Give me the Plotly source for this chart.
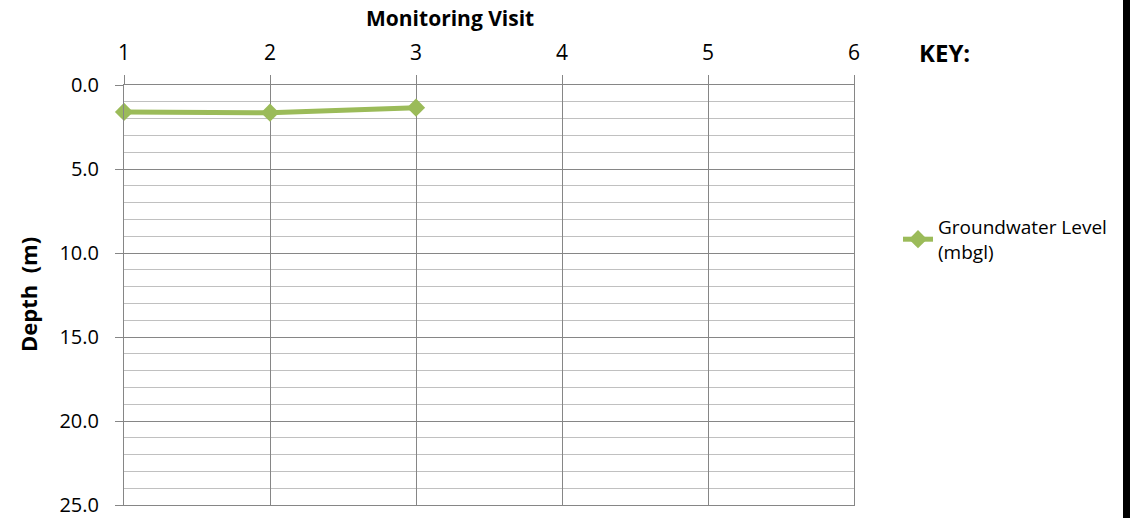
import plotly.graph_objects as go

visits = [1, 2, 3]
groundwater_level = [1.6, 1.65, 1.35]
series_name = "Groundwater Level<br>(mbgl)"
x_title = "Monitoring Visit"
y_title = "Depth  (m)"
key_label = "KEY:"

FONT = "'Open Sans', sans-serif"
GREEN = "#9BBB59"
L, R, T, B = 124, 854, 85, 505
PW, PH = R - L, B - T

fig = go.Figure()
fig.add_trace(go.Scatter(
    x=visits, y=groundwater_level, name=series_name,
    mode="lines+markers",
    line=dict(color=GREEN, width=5),
    marker=dict(symbol="diamond", size=14, color=GREEN),
    cliponaxis=False,
))

fig.update_layout(
    width=1130, height=518,
    margin=dict(l=L, r=1130 - R, t=T, b=518 - B, autoexpand=False),
    paper_bgcolor="white", plot_bgcolor="white",
    font=dict(family=FONT, size=20, color="#000000"),
    showlegend=True,
    legend=dict(x=(898 - L) / PW, y=(B - 208) / PH, xanchor="left", yanchor="top",
                font=dict(size=19, family=FONT), bgcolor="rgba(0,0,0,0)"),
    xaxis=dict(
        side="top", range=[1, 6], dtick=1, tick0=1,
        ticks="outside", ticklen=9, tickcolor="#868686",
        showgrid=True, gridcolor="#868686", gridwidth=1,
        showline=True, linecolor="#868686", mirror=True, zeroline=False,
        ticklabelstandoff=7,
        tickfont=dict(size=21),
    ),
    yaxis=dict(
        range=[25, 0], dtick=5, tick0=0, tickformat=".1f",
        ticks="outside", ticklen=8, tickcolor="#868686",
        showgrid=True, gridcolor="#868686", gridwidth=1,
        minor=dict(dtick=1, showgrid=True, gridcolor="#C0C0C0", ticks=""),
        showline=True, linecolor="#868686", mirror=True, zeroline=False,
        ticklabelstandoff=12,
        tickfont=dict(size=20),
    ),
)

fig.add_annotation(
    text=f"<b>{x_title}</b>", xref="paper", yref="paper",
    x=(450 - L) / PW, y=(B - 18) / PH, xanchor="center", yanchor="middle",
    showarrow=False, font=dict(size=21, family=FONT),
)
fig.add_annotation(
    text=f"<b>{y_title}</b>", xref="paper", yref="paper", textangle=-90,
    x=(28 - L) / PW, y=(B - 295) / PH, xanchor="center", yanchor="middle",
    showarrow=False, font=dict(size=22, family=FONT),
)
fig.add_annotation(
    text=f"<b>{key_label}</b>", xref="paper", yref="paper",
    x=(917 - L) / PW, y=(B - 52) / PH, xanchor="left", yanchor="middle",
    showarrow=False, font=dict(size=24, family=FONT),
)
# black frame edge at the right of the picture
fig.add_annotation(
    text=" ", xref="paper", yref="paper",
    x=(1130 - L) / PW, y=(B - 259) / PH, xanchor="right", yanchor="middle",
    width=7, height=518, bgcolor="black", borderpad=0, borderwidth=0,
    showarrow=False,
)

fig.write_html("out.html", post_script="document.body.style.margin='0';",
               config={"displayModeBar": False})
